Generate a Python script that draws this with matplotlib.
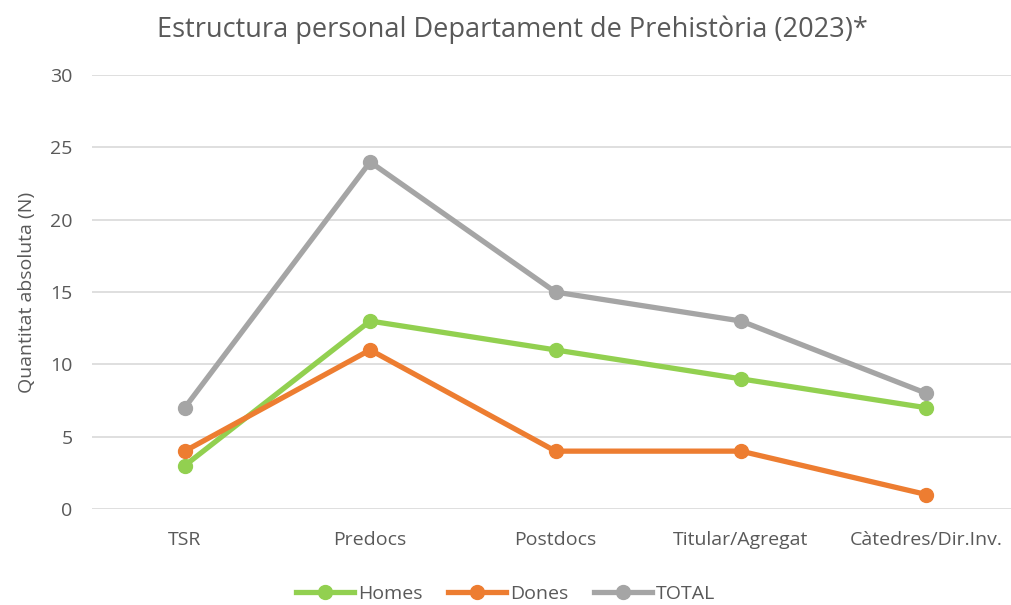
import matplotlib.pyplot as plt

categories = ["TSR", "Predocs", "Postdocs", "Titular/Agregat", "Càtedres/Dir.Inv."]
homes = [3, 13, 11, 9, 7]
dones = [4, 11, 4, 4, 1]
total = [7, 24, 15, 13, 8]

plt.rcParams['font.family'] = ['Open Sans', 'DejaVu Sans']
txt = "#595959"

fig = plt.figure(figsize=(10.11, 6.05), dpi=100)
ax = fig.add_axes([0.091, 0.1587, 0.917, 0.717])

x = range(len(categories))
ax.plot(x, homes, color="#92D050", lw=3.8, marker="o", ms=10, label="Homes")
ax.plot(x, dones, color="#ED7D31", lw=3.8, marker="o", ms=10, label="Dones")
ax.plot(x, total, color="#A5A5A5", lw=3.8, marker="o", ms=10, label="TOTAL")

ax.set_xlim(-0.5, 4.5)
ax.set_ylim(0, 30)
ax.set_yticks(range(0, 31, 5))
ax.set_xticks(list(x))
ax.set_xticklabels(categories)
ax.yaxis.grid(True, color="#D9D9D9", lw=1.2)
ax.set_axisbelow(True)
for s in ax.spines.values():
    s.set_visible(False)
ax.tick_params(length=0, labelsize=14, labelcolor=txt, pad=14)
ax.tick_params(axis="x", pad=16)
ax.set_ylabel("Quantitat absoluta (N)", fontsize=14, color=txt, labelpad=10)

fig.suptitle("Estructura personal Departament de Prehistòria (2023)*", x=0.507, y=0.975,
             fontsize=19.5, color=txt)

fig.legend(loc="lower center", bbox_to_anchor=(0.5, -0.025), ncol=3, frameon=False,
           fontsize=14, labelcolor=txt, handlelength=3, columnspacing=1.3, handletextpad=0.2)

fig.savefig("out.png", dpi=100)
